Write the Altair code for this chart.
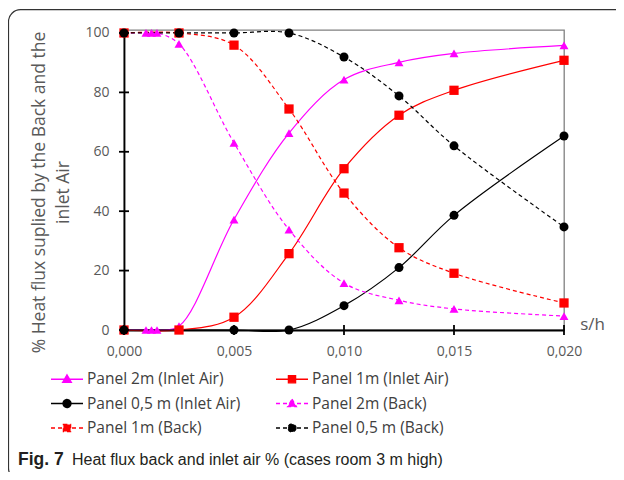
import altair as alt
import pandas as pd

# ---------------- data ----------------
series = [
    "Panel 2m (Inlet Air)", "Panel 1m (Inlet Air)", "Panel 0,5 m (Inlet Air)",
    "Panel 2m (Back)", "Panel 1m (Back)", "Panel 0,5 m (Back)",
]
colors = ["#FF00FF", "#FF0000", "#000000", "#FF00FF", "#FF0000", "#000000"]
dashes = [[1, 0], [1, 0], [1, 0], [4, 3], [4, 3], [4, 3]]
markers = ["tri", "sq", "circ", "tri", "sq", "circ"]
kinds = ["inlet", "inlet", "inlet", "back", "back", "back"]
# legend entries are laid out column by column; this order gives the
# reference's row-by-row reading (2m In | 1m In / 0,5m In | 2m Back / 1m Back | 0,5m Back)
legend_order = [0, 2, 4, 1, 3, 5]

x_2m = [0, 0.001, 0.00125, 0.0015, 0.0025, 0.005, 0.0075, 0.01, 0.0125, 0.015, 0.02]
inlet_2m = [0, 0, 0, 0, 1.3, 37.2, 66.3, 84.3, 90.1, 93.1, 95.8]
back_2m = [100, 100, 100, 100, 96.3, 63.0, 33.8, 15.8, 10.0, 7.1, 4.7]

x_1m = [0, 0.0025, 0.005, 0.0075, 0.01, 0.0125, 0.015, 0.02]
inlet_1m = [0, 0, 4.3, 25.7, 54.3, 72.3, 80.7, 90.8]
back_1m = [100, 100, 95.9, 74.4, 46.1, 27.7, 19.1, 9.1]

x_05m_inlet = [0, 0.005, 0.0075, 0.01, 0.0125, 0.015, 0.02]
inlet_05m = [0, 0, 0, 8.2, 21.0, 38.6, 65.3]
x_05m_back = [0, 0.0025, 0.005, 0.0075, 0.01, 0.0125, 0.015, 0.02]
back_05m = [100, 100, 100, 100, 91.9, 78.8, 62.0, 34.7]

x_ticks = [0, 0.005, 0.01, 0.015, 0.02]
y_ticks = [0, 20, 40, 60, 80, 100]

y_title = ["% Heat flux suplied by the Back and the", "inlet Air"]
x_title = "s/h"
fig_label = "Fig. 7"
caption = "Heat flux back and inlet air % (cases room 3 m high)"

# ---------------- table ----------------
series_x = [x_2m, x_1m, x_05m_inlet, x_2m, x_1m, x_05m_back]
series_y = [inlet_2m, inlet_1m, inlet_05m, back_2m, back_1m, back_05m]
rows = []
for i, name in enumerate(series):
    for xv, yv in zip(series_x[i], series_y[i]):
        rows.append({"series": name, "x": xv, "y": yv, "marker": markers[i],
                     "kind": kinds[i], "col": colors[i]})
df = pd.DataFrame(rows)

legend_paths = {
    "tri": "M-2,0H2M0,-0.55L0.55,0.4H-0.55Z",
    "sq": "M-2,0H2M-0.45,-0.45H0.45V0.45H-0.45Z",
    "circ": "M-2,0H2M0.5,0A0.5,0.5,0,1,1,-0.5,0A0.5,0.5,0,1,1,0.5,0Z",
}
leg_domain = [series[i] for i in legend_order]
leg_colors = [colors[i] for i in legend_order]
leg_dashes = [dashes[i] for i in legend_order]
leg_shapes = [legend_paths[markers[i]] for i in legend_order]

FONT = "Open Sans"
CAPFONT = "Liberation Sans"
GREY = "#595959"
CURVE = "catmull-rom"

xscale = alt.Scale(domain=[0, 0.02], nice=False, zero=False)
yscale = alt.Scale(domain=[0, 101], nice=False, zero=False)

xaxis = alt.Axis(
    values=x_ticks, labelExpr="replace(format(datum.value, '.3f'), '.', ',')",
    ticks=False, grid=False, domainColor="black", domainWidth=1.8,
    labelFont=FONT, labelFontSize=14, labelColor=GREY, labelPadding=14,
    labelFlush=False, labelOverlap=False,
    title=x_title, titleX=468, titleY=-6, titleAlign="center", titleBaseline="middle",
    titleFont=FONT, titleFontSize=17, titleFontWeight="normal", titleColor=GREY,
)
yaxis = alt.Axis(
    values=y_ticks, ticks=False, grid=False, domainColor="black", domainWidth=1.8,
    labelFont=FONT, labelFontSize=14, labelColor=GREY, labelPadding=15,
    labelFlush=False, labelOverlap=False,
    title=y_title, titleX=-85, titleY=162, titleAngle=-90, titleAlign="center",
    titleBaseline="middle", titleLineHeight=24,
    titleFont=FONT, titleFontSize=17.5, titleFontWeight="normal", titleColor=GREY,
)

base = alt.Chart(df)
col_id = alt.Color("col:N", scale=None)

line_solid = base.transform_filter(alt.datum.kind == "inlet").mark_line(
    interpolate=CURVE, strokeWidth=1.2
).encode(
    x=alt.X("x:Q", scale=xscale, axis=xaxis),
    y=alt.Y("y:Q", scale=yscale, axis=yaxis),
    color=col_id, detail="series:N",
)
line_dash = base.transform_filter(alt.datum.kind == "back").mark_line(
    interpolate=CURVE, strokeWidth=1.2, strokeDash=[4, 3]
).encode(x="x:Q", y="y:Q", color=col_id, detail="series:N")

shape_names = {"tri": ("triangle-up", 80), "sq": ("square", 86), "circ": ("circle", 81)}
point_layers = []
for mk, (shp, sz) in shape_names.items():
    point_layers.append(
        base.transform_filter(alt.datum.marker == mk)
        .mark_point(filled=True, shape=shp, size=sz, opacity=1)
        .encode(x="x:Q", y="y:Q", color=col_id)
    )

leg = alt.Legend(
    title=None, orient="none", legendX=-66, legendY=340, columns=2,
    columnPadding=32, rowPadding=6.5, labelFont=FONT, labelFontSize=15.5,
    labelColor="#404040", labelOffset=11, symbolSize=256, symbolStrokeWidth=1.3,
)
legend_layer = base.mark_point(filled=True, opacity=0, size=256).encode(
    x="x:Q", y="y:Q",
    color=alt.Color("series:N", scale=alt.Scale(domain=leg_domain, range=leg_colors), legend=leg, title=None),
    stroke=alt.Stroke("series:N", scale=alt.Scale(domain=leg_domain, range=leg_colors), legend=leg, title=None),
    shape=alt.Shape("series:N", scale=alt.Scale(domain=leg_domain, range=leg_shapes), legend=leg, title=None),
    strokeDash=alt.StrokeDash("series:N", scale=alt.Scale(domain=leg_domain, range=leg_dashes), legend=leg, title=None),
)

xt = alt.Chart(pd.DataFrame({"v": x_ticks})).mark_tick(
    orient="vertical", size=10, thickness=1.8, color="black", opacity=1
).encode(x="v:Q", y=alt.datum(0))
yt = alt.Chart(pd.DataFrame({"v": y_ticks})).mark_tick(
    orient="horizontal", size=10, thickness=1.8, color="black", opacity=1
).encode(y="v:Q", x=alt.datum(0))

cap1 = alt.Chart(pd.DataFrame({"t": [fig_label]})).mark_text(
    align="left", baseline="alphabetic", font=CAPFONT, fontSize=17.5,
    fontWeight="bold", color="#231f20"
).encode(x=alt.value(-106), y=alt.value(435), text="t:N")
cap2 = alt.Chart(pd.DataFrame({"t": [caption]})).mark_text(
    align="left", baseline="alphabetic", font=CAPFONT, fontSize=16,
    color="#231f20"
).encode(x=alt.value(-52), y=alt.value(435), text="t:N")

frame = alt.Chart(pd.DataFrame({"t": [0]})).mark_rect(
    fillOpacity=0, stroke="#333333", strokeWidth=1.2, cornerRadius=12
).encode(x=alt.value(-115.5), x2=alt.value(520), y=alt.value(-20.3), y2=alt.value(450))

chart = alt.layer(
    frame, line_solid, line_dash, *point_layers, xt, yt, legend_layer, cap1, cap2
).properties(
    width=440, height=300,
    padding={"left": 116, "top": 22, "right": 52, "bottom": 142},
    autosize=alt.AutoSizeParams(type="none"),
).configure_view(stroke="#808080", strokeWidth=1.3)

chart.save("out.html", embed_options={"renderer": "svg", "actions": False})
